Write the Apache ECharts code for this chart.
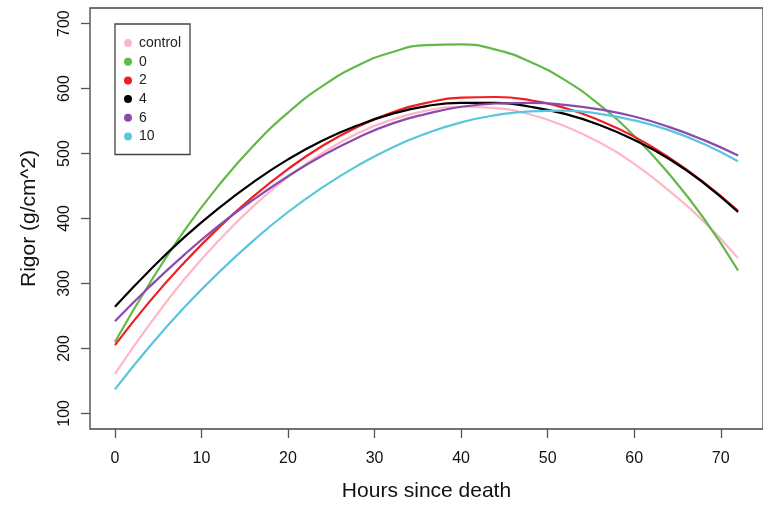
<!DOCTYPE html>
<html>
<head>
<meta charset="utf-8">
<script src="https://cdn.jsdelivr.net/npm/echarts@6/dist/echarts.min.js"></script>
<style>
html,body{margin:0;padding:0;background:#fff;}
#chart{width:763px;height:507px;}
</style>
</head>
<body>
<div id="chart"></div>
<script>
const hours = [0, 4, 8, 12, 16, 20, 24, 28, 32, 36, 40, 44, 48, 52, 56, 60, 64, 68, 72];
const control = [161, 237, 306, 366, 419, 464, 501, 531, 552, 566, 572, 570, 560, 542, 517, 484, 443, 396, 339];
const g0 = [210, 300, 381, 451, 512, 563, 604, 635, 656, 667, 668, 660, 641, 613, 575, 527, 469, 401, 320];
const g2 = [205, 272, 332, 386, 434, 476, 512, 541, 563, 578, 586, 587, 582, 570, 551, 526, 494, 456, 412];
const g4 = [264, 320, 371, 416, 456, 491, 520, 543, 561, 573, 578, 578, 572, 561, 544, 521, 492, 455, 410];
const g6 = [242, 295, 344, 389, 429, 465, 497, 524, 546, 561, 572, 577, 578, 575, 568, 557, 541, 521, 497];
const g10 = [137, 203, 263, 317, 366, 410, 448, 481, 509, 531, 548, 559, 565, 566, 561, 551, 536, 515, 488];
const seriesNames = ['control', '0', '2', '4', '6', '10'];
const seriesColors = ['#FFB6C8', '#62B946', '#F01E23', '#000000', '#8A4BAF', '#5AC5DC'];
const xTicks = [0, 10, 20, 30, 40, 50, 60, 70];
const yTicks = [100, 200, 300, 400, 500, 600, 700];

const allData = [control, g0, g2, g4, g6, g10];
const FONT = '"Liberation Sans", Arial, sans-serif';

const chart = echarts.init(document.getElementById('chart'), null, {renderer: 'canvas'});
const series = allData.map((arr, i) => ({
  name: seriesNames[i],
  type: 'line',
  smooth: true,
  showSymbol: false,
  data: hours.map((h, j) => [h, arr[j]]),
  lineStyle: {color: seriesColors[i], width: 2.2},
  itemStyle: {color: seriesColors[i]},
  z: 2 + i
}));

chart.setOption({
  animation: false,
  backgroundColor: '#fff',
  textStyle: {fontFamily: FONT},
  grid: {left: 90, top: 8, right: -6.4, bottom: 74.3, show: true, borderColor: '#444', borderWidth: 1.3, backgroundColor: 'transparent'},
  legend: {
    orient: 'vertical',
    left: 115, top: 24,
    padding: [12, 9, 11, 9],
    itemWidth: 8, itemHeight: 8, itemGap: 4.7,
    icon: 'circle',
    borderColor: '#444', borderWidth: 1.3,
    backgroundColor: '#fff',
    textStyle: {fontSize: 14, color: '#222', lineHeight: 14, fontFamily: FONT, padding: [0, 0, 0, 2]},
    data: seriesNames
  },
  xAxis: {
    type: 'value', min: -2.88, max: 74.88,
    name: 'Hours since death', nameLocation: 'middle', nameGap: 52,
    nameTextStyle: {fontSize: 21, color: '#111', fontFamily: FONT},
    axisLine: {show: false, onZero: false},
    axisTick: {show: true, length: 9, lineStyle: {color: '#555', width: 1.3}, customValues: xTicks},
    axisLabel: {customValues: xTicks, fontSize: 16, margin: 22, color: '#111', fontFamily: FONT},
    splitLine: {show: false}
  },
  yAxis: {
    type: 'value', min: 76, max: 724,
    name: 'Rigor (g/cm^2)', nameLocation: 'middle', nameGap: 50,
    nameTextStyle: {fontSize: 21, color: '#111', fontFamily: FONT},
    axisLine: {show: false, onZero: false},
    axisTick: {show: true, length: 9, lineStyle: {color: '#555', width: 1.3}, customValues: yTicks},
    axisLabel: {customValues: yTicks, fontSize: 16, margin: 17, rotate: 90, color: '#111', fontFamily: FONT},
    splitLine: {show: false}
  },
  series: series
});
</script>
</body>
</html>
